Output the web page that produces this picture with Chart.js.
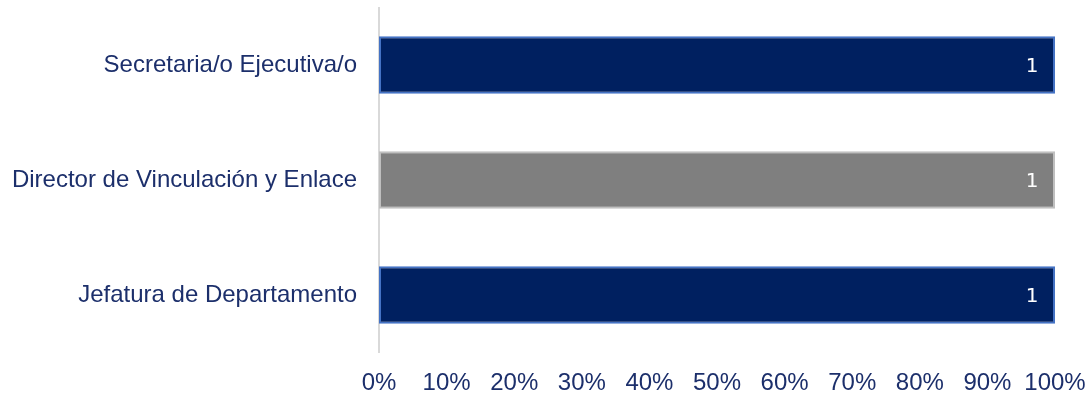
<!DOCTYPE html>
<html>
<head>
<meta charset="utf-8">
<script src="https://cdn.jsdelivr.net/npm/chart.js@4/dist/chart.umd.min.js"></script>
<style>
  body { margin: 0; background: #fff; }
  #wrap { width: 1088px; height: 393px; position: relative; }
</style>
</head>
<body>
<div id="wrap"><canvas id="chart"></canvas></div>
<script>
// datos del gráfico
const categories = ['Secretaria/o Ejecutiva/o', 'Director de Vinculación y Enlace', 'Jefatura de Departamento'];
const counts = [1, 1, 1];
const totals = [1, 1, 1];
const barColors = ['#002060', '#7F7F7F', '#002060'];
const borderColors = ['#4472C4', '#BFBFBF', '#4472C4'];

// porcentaje (100% apilado)
const shares = counts.map((c, i) => c / totals[i] * 100);

const textColor = '#1C2F6B';
const labelFont = { family: 'Liberation Sans, Arial, sans-serif', size: 24 };

// etiquetas de datos dentro de la barra
const valueLabels = {
  id: 'valueLabels',
  afterDatasetsDraw(chart) {
    const ctx = chart.ctx;
    const meta = chart.getDatasetMeta(0);
    ctx.save();
    ctx.fillStyle = '#FFFFFF';
    ctx.font = '20px "DejaVu Sans", sans-serif';
    ctx.textAlign = 'center';
    ctx.textBaseline = 'middle';
    meta.data.forEach((bar, i) => {
      ctx.fillText(String(counts[i]), bar.x - 23, bar.y + 1.5);
    });
    ctx.restore();
  }
};

new Chart(document.getElementById('chart'), {
  type: 'bar',
  data: {
    labels: categories,
    datasets: [{
      data: shares,
      backgroundColor: barColors,
      borderColor: borderColors,
      borderWidth: 2,
      borderSkipped: false,
      categoryPercentage: 1,
      barPercentage: 0.5
    }]
  },
  options: {
    indexAxis: 'y',
    responsive: true,
    maintainAspectRatio: false,
    animation: false,
    layout: { padding: { top: 7.5, right: 33, left: 0, bottom: 0 } },
    plugins: {
      legend: { display: false },
      tooltip: { enabled: false }
    },
    scales: {
      x: {
        min: 0,
        max: 100,
        grid: { display: false, drawTicks: false },
        border: { display: false },
        ticks: {
          stepSize: 10,
          color: textColor,
          font: labelFont,
          padding: 16,
          maxRotation: 0,
          autoSkip: false,
          callback: v => v + '%'
        },
        afterFit: s => {
          s.height = 40.5;
          s.paddingLeft = 0;
          s.paddingRight = 0;
        }
      },
      y: {
        grid: { display: false, drawTicks: false },
        border: { display: true, color: '#D9D9D9', width: 2 },
        ticks: { color: textColor, font: labelFont, padding: 22 },
        afterFit: s => {
          s.width = 379;
          s.paddingTop = 0;
          s.paddingBottom = 0;
        }
      }
    }
  },
  plugins: [valueLabels]
});
</script>
</body>
</html>
